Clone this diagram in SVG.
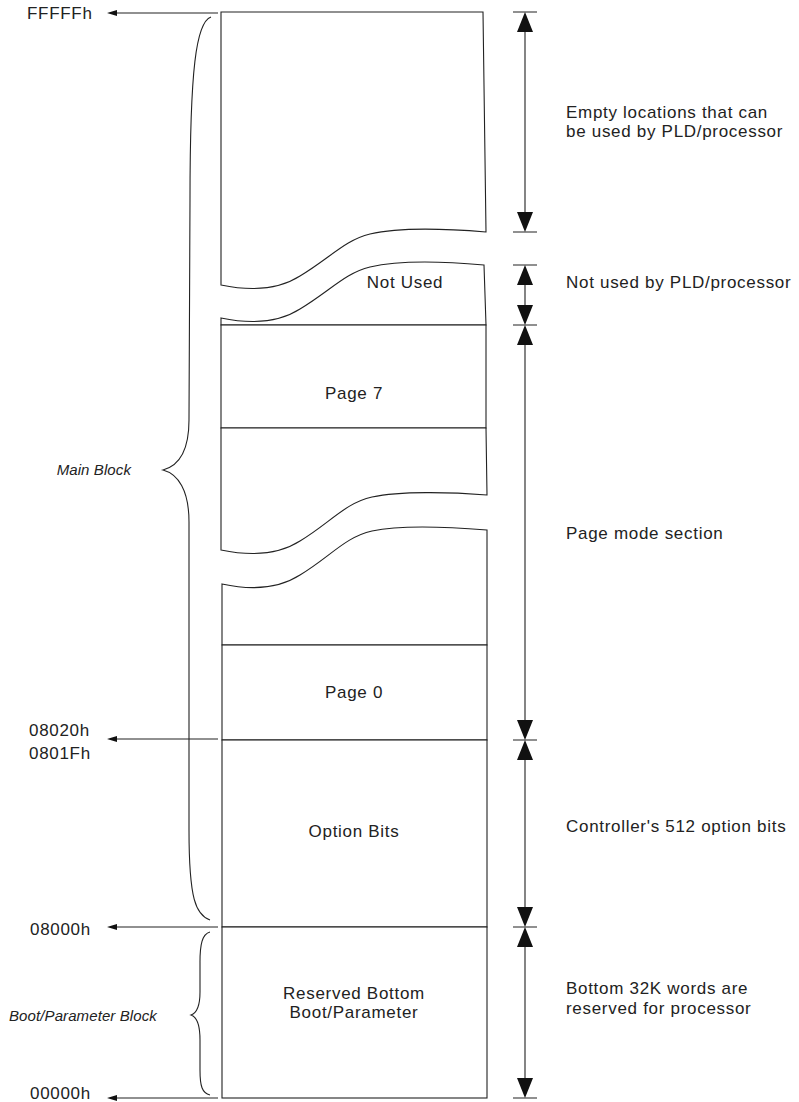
<svg xmlns="http://www.w3.org/2000/svg" width="799" height="1102" viewBox="0 0 799 1102">
<defs>
<style>
.ln{fill:none;stroke:#222;stroke-width:1.1}
.sh{fill:#fff;stroke:#222;stroke-width:1.1}
.t{font-family:"Liberation Sans",Arial,sans-serif;font-size:17px;letter-spacing:0.7px;fill:#222}
.c{text-anchor:middle}
.it{font-family:"Liberation Sans",Arial,sans-serif;font-size:15px;font-style:italic;letter-spacing:0.1px;fill:#222}
.ah{fill:#111}
</style>
</defs>
<rect width="799" height="1102" fill="#fff"/>

<g id="memory-top">
<path class="sh" d="M221,285 L221,12 L483,12 L486,232 C450,229 400,227 370,234 C345,240 330,258 300,276 C275,292 245,290 221,285 Z"/>
</g>
<g id="not-used">
<path class="sh" d="M221,318 C245,323 275,325 300,309 C330,291 345,273 370,267 C400,260 450,262 484,265 L486,325 L221,325 Z"/>
<text class="t c" x="405" y="288">Not Used</text>
</g>
<g id="page7">
<rect class="sh" x="221" y="325" width="265" height="103"/>
<text class="t c" x="354" y="399">Page 7</text>
</g>
<g id="page-mid-upper">
<path class="sh" d="M221,428 L486,428 L487,495 C450,492 400,491 372,497 C345,503 330,523 300,541 C275,557 245,555 221,550 Z"/>
</g>
<g id="page-mid-lower">
<path class="sh" d="M222,584 C245,589 275,591 300,575 C330,557 345,537 372,531 C400,525 450,527 487,530 L487,645 L222,645 Z"/>
</g>
<g id="page0">
<rect class="sh" x="222" y="645" width="265" height="95"/>
<text class="t c" x="354" y="698">Page 0</text>
</g>
<g id="option-bits">
<rect class="sh" x="222" y="740" width="265" height="187"/>
<text class="t c" x="354" y="837">Option Bits</text>
</g>
<g id="reserved">
<rect class="sh" x="222" y="927" width="265" height="171"/>
<text class="t c" x="354" y="999">Reserved Bottom</text>
<text class="t c" x="354" y="1018">Boot/Parameter</text>
</g>

<g id="addresses">
<text class="t" x="27" y="19">FFFFFh</text>
<text class="t" x="29" y="736">08020h</text>
<text class="t" x="29" y="759">0801Fh</text>
<text class="t" x="30" y="935">08000h</text>
<text class="t" x="30" y="1099">00000h</text>
</g>

<g id="braces">
<path class="ln" d="M211,17 C196,22 190,70 190,200 L189,420 C189,452 178,466 163,470 C178,474 189,490 189,522 L189,830 C189,900 196,915 210,920"/>
<text class="it" x="131" y="475" text-anchor="end">Main Block</text>
<path class="ln" d="M210,932 C202,934 200,945 200,962 L200,992 C200,1007 197,1013 191,1015 C197,1017 200,1024 200,1040 L200,1070 C200,1086 202,1093 210,1095"/>
<text class="it" x="9" y="1021">Boot/Parameter Block</text>
</g>

<g id="connectors">
<path class="ln" d="M218,13 H112 M218,739 H112 M218,927 H112 M218,1098 H112"/>
<path class="ah" d="M107,13 L117,10 L117,16 Z M107,739 L117,736 L117,742 Z M107,927 L117,924 L117,930 Z M107,1098 L117,1095 L117,1101 Z"/>

<g id="dims">
<path class="ln" d="M513,12 H537 M513,232 H537 M513,265 H537 M513,325 H537 M513,740 H537 M513,927 H537 M513,1098 H537"/>
<path class="ln" d="M525,30 V214 M525,283 V307 M525,343 V722 M525,758 V909 M525,945 V1080"/>
<path class="ah" d="M525,12 L517,32 L533,32 Z M525,232 L517,212 L533,212 Z M525,265 L517,285 L533,285 Z M525,325 L517,305 L533,305 Z M525,325 L517,345 L533,345 Z M525,740 L517,720 L533,720 Z M525,740 L517,760 L533,760 Z M525,927 L517,907 L533,907 Z M525,927 L517,947 L533,947 Z M525,1098 L517,1078 L533,1078 Z"/>
</g>
</g>

<g id="descriptions">
<text class="t" x="566" y="118">Empty locations that can</text>
<text class="t" x="566" y="137">be used by PLD/processor</text>
<text class="t" x="566" y="288">Not used by PLD/processor</text>
<text class="t" x="566" y="539">Page mode section</text>
<text class="t" x="566" y="832">Controller's 512 option bits</text>
<text class="t" x="566" y="994">Bottom 32K words are</text>
<text class="t" x="566" y="1014">reserved for processor</text>
</g>
</svg>
